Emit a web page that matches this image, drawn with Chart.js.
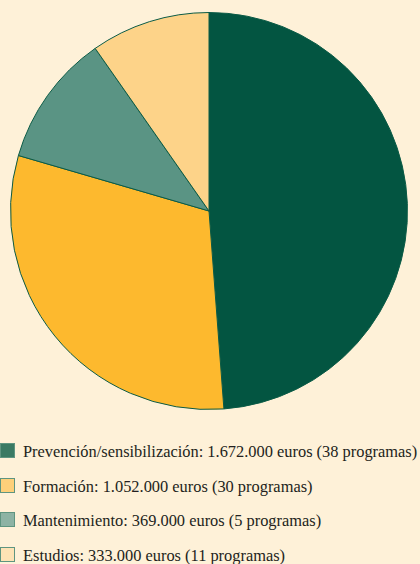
<!DOCTYPE html>
<html>
<head>
<meta charset="utf-8">
<script src="https://cdn.jsdelivr.net/npm/chart.js@4"></script>
<style>
  html, body { margin: 0; padding: 0; background: #fef1d8; }
  body { width: 420px; height: 564px; overflow: hidden; position: relative; }
  #wrap { position: absolute; left: 0; top: 0; width: 420px; height: 422px; }
  #legend { position: absolute; left: 0; top: 443px; width: 460px; font-family: "Liberation Serif", serif; font-size: 16.4px; color: #231f20; white-space: nowrap; }
  .row { height: 34.6px; display: flex; align-items: flex-start; }
  .box { width: 15px; height: 15px; margin-right: 8px; flex: none; box-sizing: border-box; border: 1.5px solid #5e9580; }
  .txt { line-height: 18px; }
</style>
</head>
<body>
<div id="wrap"><canvas id="myChart"></canvas></div>
<div id="legend"></div>
<script>
const categories = ['Prevención/sensibilización', 'Formación', 'Mantenimiento', 'Estudios'];
const amounts = [1672000, 1052000, 369000, 333000];
const programs = [38, 30, 5, 11];
const colors = ['#035541', '#fdb92e', '#5a9484', '#fdd389'];
const legendColors = ['#3a7a63', '#fdd07a', '#8db3a4', '#fde3b5'];

function euros(v) {
  return v.toString().replace(/\B(?=(\d{3})+(?!\d))/g, '.');
}

const ctx = document.getElementById('myChart');

new Chart(ctx, {
  type: 'pie',
  data: {
    labels: categories,
    datasets: [
      {
        data: amounts,
        backgroundColor: colors,
        borderColor: '#0a5a45',
        borderWidth: 1,
      },
    ],
  },
  options: {
    responsive: true,
    maintainAspectRatio: false,
    animation: false,
    layout: { padding: { left: 10, right: 12, top: 12, bottom: 12 } },
    plugins: {
      legend: { display: false },
      tooltip: { enabled: false },
    },
  },
});

const legend = document.getElementById('legend');
categories.forEach((c, i) => {
  const row = document.createElement('div');
  row.className = 'row';
  row.innerHTML = '<span class="box" style="background:' + legendColors[i] + '"></span>' +
    '<span class="txt">' + c + ': ' + euros(amounts[i]) + ' euros (' + programs[i] + ' programas)</span>';
  legend.appendChild(row);
});
</script>
</body>
</html>
